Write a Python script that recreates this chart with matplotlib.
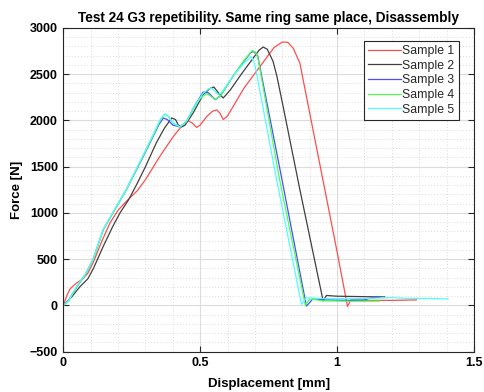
import matplotlib
matplotlib.use("Agg")
import matplotlib.pyplot as plt
from matplotlib.ticker import MultipleLocator, FuncFormatter

plt.rcParams['font.family'] = ['Liberation Sans', 'DejaVu Sans']

title = "Test 24 G3 repetibility. Same ring same place, Disassembly"
xlabel = "Displacement [mm]"
ylabel = "Force [N]"
labels = ["Sample 1", "Sample 2", "Sample 3", "Sample 4", "Sample 5"]
colors = ["#ff4d4d", "#404040", "#4d4dff", "#4dff4d", "#4dffff"]

x1 = [0, 0.012, 0.025, 0.045, 0.07, 0.09, 0.11, 0.14, 0.17, 0.20, 0.23, 0.27, 0.30,
      0.35, 0.40, 0.43, 0.453, 0.47, 0.487, 0.50, 0.523, 0.545, 0.56, 0.572, 0.584,
      0.60, 0.63, 0.66, 0.72, 0.77, 0.80, 0.82, 0.84, 0.864, 0.90, 0.95, 1.00, 1.038,
      1.05, 1.10, 1.20, 1.29]
y1 = [0, 100, 180, 235, 285, 350, 470, 690, 890, 1030, 1125, 1240, 1360,
      1600, 1820, 1930, 2000, 1975, 1925, 1950, 2040, 2100, 2115, 2080, 2010,
      2050, 2200, 2350, 2590, 2790, 2848, 2845, 2780, 2620, 2080, 1330, 580, -10,
      60, 55, 55, 60]

x2 = [0, 0.03, 0.06, 0.09, 0.11, 0.146, 0.18, 0.207, 0.24, 0.27, 0.30, 0.34, 0.37,
      0.396, 0.41, 0.42, 0.432, 0.445, 0.474, 0.511, 0.535, 0.55, 0.566, 0.584, 0.61,
      0.65, 0.69, 0.715, 0.73, 0.745, 0.766, 0.78, 0.803, 0.864, 0.949, 0.961, 1.00,
      1.10, 1.174]
y2 = [0, 90, 200, 290, 400, 640, 850, 1000, 1150, 1320, 1500, 1760, 1920,
      2027, 2010, 1950, 1930, 1950, 2080, 2280, 2345, 2362, 2300, 2243, 2330,
      2500, 2660, 2760, 2794, 2770, 2640, 2480, 2150, 1253, 50, 108, 100,
      95, 92]

x3 = [0, 0.02, 0.049, 0.08, 0.109, 0.146, 0.195, 0.23, 0.29, 0.33, 0.35, 0.365, 0.38,
      0.40, 0.426, 0.45, 0.48, 0.511, 0.53, 0.555, 0.575, 0.62, 0.66, 0.685, 0.695,
      0.71, 0.80, 0.888, 0.912, 0.95, 1.05, 1.10, 1.12, 1.156]
y3 = [0, 60, 200, 330, 500, 820, 1070, 1250, 1600, 1840, 1960, 2027, 2010,
      1950, 1930, 1990, 2160, 2308, 2300, 2225, 2270, 2480, 2640, 2735, 2745,
      2700, 1340, -7, 72, 60, 55, 60, 80, 90]

x4 = [0, 0.02, 0.049, 0.08, 0.109, 0.146, 0.195, 0.23, 0.29, 0.33, 0.355, 0.371, 0.385,
      0.40, 0.426, 0.45, 0.48, 0.50, 0.523, 0.54, 0.554, 0.575, 0.62, 0.66, 0.69,
      0.70, 0.71, 0.79, 0.884, 0.90, 0.95, 1.05, 1.156]
y4 = [0, 50, 205, 330, 497, 821, 1073, 1253, 1610, 1850, 2010, 2070, 2040,
      1970, 1930, 1990, 2150, 2240, 2290, 2260, 2225, 2270, 2480, 2650, 2757,
      2740, 2690, 1361, 0, 70, 50, 45, 47]

x5 = [0, 0.02, 0.049, 0.08, 0.109, 0.146, 0.195, 0.23, 0.29, 0.33, 0.355, 0.371, 0.385,
      0.40, 0.426, 0.45, 0.48, 0.51, 0.53, 0.541, 0.555, 0.566, 0.58, 0.62, 0.66,
      0.687, 0.70, 0.779, 0.87, 0.888, 0.95, 1.10, 1.20, 1.25, 1.405]
y5 = [0, 55, 210, 335, 500, 825, 1075, 1255, 1615, 1860, 2015, 2070, 2045,
      1975, 1930, 1990, 2160, 2290, 2340, 2351, 2310, 2279, 2310, 2480, 2620,
      2693, 2600, 1361, 11, 83, 75, 75, 85, 78, 72]

xs = [x1, x2, x3, x4, x5]
ys = [y1, y2, y3, y4, y5]

fig = plt.figure(figsize=(4.84, 3.92), dpi=100)
ax = fig.add_axes([0.1308, 0.1028, 0.8485, 0.8258])

for x, y, c, lab in zip(xs, ys, colors, labels):
    ax.plot(x, y, color=c, lw=0.9, label=lab)

ax.set_xlim(0, 1.5)
ax.set_ylim(-500, 3000)
ax.xaxis.set_major_locator(MultipleLocator(0.5))
ax.xaxis.set_minor_locator(MultipleLocator(0.1))
ax.yaxis.set_major_locator(MultipleLocator(500))
ax.yaxis.set_minor_locator(MultipleLocator(100))
ax.xaxis.set_major_formatter(FuncFormatter(lambda v, p: f"{v:g}"))

ax.grid(True, which='major', color='#dcdcdc', lw=0.8, ls='-')
ax.grid(True, which='minor', color='#dcdcdc', lw=0.7, ls=(0, (1, 2)))
ax.set_axisbelow(True)

ax.tick_params(which='both', direction='in', top=True, right=True, colors='#262626',
               labelcolor='black')
ax.tick_params(which='major', length=4, labelsize=9, pad=4)
ax.tick_params(which='minor', length=0)
for lbl in ax.get_xticklabels() + ax.get_yticklabels():
    lbl.set_fontweight('bold')
for s in ax.spines.values():
    s.set_color('#262626')
    s.set_linewidth(0.8)

ax.set_title(title, fontsize=9.8, fontweight='bold', pad=4)
ax.set_xlabel(xlabel, fontsize=9.5, fontweight='bold', labelpad=6)
ax.set_ylabel(ylabel, fontsize=9.5, fontweight='bold', labelpad=5)

leg = ax.legend(loc='upper right', bbox_to_anchor=(0.963, 0.961), fontsize=8.8,
                handlelength=2.7, handletextpad=0.1, labelspacing=0.22,
                borderpad=0.35, borderaxespad=0, fancybox=False, framealpha=1)
leg.get_frame().set_edgecolor('#262626')
leg.get_frame().set_linewidth(0.8)
for t in leg.get_texts():
    t.set_color('#262626')

fig.savefig("out.png", dpi=100)
